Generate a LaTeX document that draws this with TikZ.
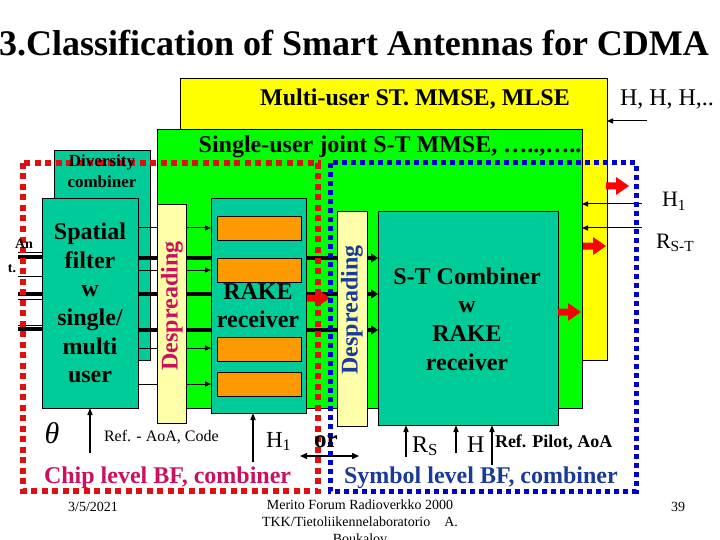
\documentclass[tikz,border=0pt]{standalone}
\usepackage{fontspec}
\setmainfont{Liberation Serif}
\usetikzlibrary{arrows.meta,calc,positioning}
\definecolor{cdmaYellow} {HTML}{FFFF00}
\definecolor{cdmaGreen}  {HTML}{00FF00}
\definecolor{cdmaTeal}   {HTML}{00CC99}
\definecolor{cdmaPale}   {HTML}{FFFFAA}
\definecolor{cdmaOrange} {HTML}{FF9900}
\definecolor{cdmaRed}    {HTML}{FF0000}
\definecolor{cdmaDotRed} {HTML}{E01010}
\definecolor{cdmaDotBlue}{HTML}{0000CC}
\definecolor{cdmaCrimson}{HTML}{CC1060}
\definecolor{cdmaNavy}   {HTML}{1A3A99}
\tikzset{
  blockarr/.pic={
    \fill[cdmaRed] (0,-3.5) -- (10,-3.5) -- (10,-9) -- (23,0) -- (10,9) -- (10,3.5) -- (0,3.5) -- cycle;
  },
}

\begin{document}
\begin{tikzpicture}[x=1pt, y=-1pt,
  every node/.style ={inner sep=0pt, outer sep=0pt},
  panel/.style      ={draw=black, line width=0.7pt, anchor=north west},
  ylw/.style        ={panel, fill=cdmaYellow},
  grn/.style        ={panel, fill=cdmaGreen},
  tblk/.style       ={panel, fill=cdmaTeal},
  pblk/.style       ={panel, fill=cdmaPale},
  oblk/.style       ={panel, fill=cdmaOrange, minimum width=84pt, minimum height=24pt},
  wire/.style       ={line width=1pt, black},
  bus/.style        ={line width=3.5pt, black},
  arr/.style        ={wire, -{Triangle[length=6pt, width=5pt]}},
  uparr/.style      ={line width=1.4pt, -{Triangle[length=7pt, width=5pt]}},
  busarr/.style     ={bus, -{Triangle[length=7pt, width=9pt]}},
  darr/.style       ={line width=1.5pt, {Triangle[length=7pt, width=6pt]}-{Triangle[length=7pt, width=6pt]}},
  redframe/.style   ={draw=cdmaDotRed, line width=5.5pt, dash pattern=on 6pt off 4.5pt},
  blueframe/.style  ={draw=cdmaDotBlue, line width=5pt, dash pattern=on 5pt off 4pt},
  hdr/.style        ={anchor=base, font=\fontsize{24}{28}\selectfont\bfseries},
  lbl/.style        ={anchor=base west, font=\fontsize{24}{28}\selectfont},
  big/.style        ={align=center, font=\fontsize{24}{28.6}\selectfont\bfseries},
  vtxt/.style       ={rotate=90, font=\fontsize{24}{28}\selectfont\bfseries},
  small/.style      ={anchor=base west, font=\fontsize{16}{18}\selectfont},
  foot/.style       ={font=\fontsize{14}{17}\selectfont},
]
\useasboundingbox (0,0) rectangle (720,540);

\node[anchor=base, font=\fontsize{36}{40}\selectfont\bfseries] (title) at (354,56) {3.Classification of Smart Antennas for CDMA};

% nested processing levels
\node[ylw, minimum width=427pt, minimum height=282pt] (multiuser)  at (180,78)  {};
\node[grn, minimum width=425pt, minimum height=279pt] (singleuser) at (157,129) {};
\node[hdr] (mutitle) at (415,106) {Multi-user ST. MMSE, MLSE};
\node[lbl] (hhh)     at (620,106) {H, H, H,..};
\node[hdr] (sutitle) at (390,153) {Single-user joint S-T MMSE, …..,…..};

% chip level chain
\node[tblk, minimum width=96pt, minimum height=210pt] (divcomb) at (54,150)  {};
\node[tblk, minimum width=96pt, minimum height=210pt] (spatial) at (42,198)  {};
\node[pblk, minimum width=29pt, minimum height=219pt] (desp1)   at (157,204) {};
\node[tblk, minimum width=180pt, minimum height=214pt] (stcomb) at (378,211) {};

\foreach \yy in {252,276,299,325} \draw[wire] (18,\yy) -- (spatial.west |- 0,\yy);
\foreach \yy in {257,294,329}     \draw[bus]  (18,\yy) -- (spatial.west |- 0,\yy);
\foreach \yy in {228,270,348,384} \draw[wire] (spatial.east |- 0,\yy) -- (desp1.west |- 0,\yy);
\foreach \yy in {258,294,330}     \draw[bus]  (spatial.east |- 0,\yy) -- (desp1.west |- 0,\yy);
\foreach \yy in {258,294,330}     \draw[busarr] (desp1.east |- 0,\yy) -- (stcomb.west |- 0,\yy);

\node[tblk, minimum width=95pt, minimum height=215pt] (rake) at (211,198) {};
\node[oblk] (rakeA) at (217,216) {};
\node[oblk] (rakeB) at (217,258) {};
\node[oblk] (rakeC) at (217,337) {};
\node[oblk] (rakeD) at (217,372) {};
\node[pblk, minimum width=30pt, minimum height=215pt] (desp2) at (337,211) {};

\foreach \yy in {228,270,348,384} \draw[arr] (desp1.east |- 0,\yy) -- (rake.west |- 0,\yy);

% block arrows
\pic at (307,298) {blockarr};
\pic at (606,186) {blockarr};
\pic at (583,246) {blockarr};
\pic at (558,312) {blockarr};

% side inputs
\coordinate (hhhsrc) at (647,121);
\coordinate (honesrc) at (642,204);
\coordinate (rstsrc) at (642,228);
\draw[arr] (hhhsrc)  -- (hhhsrc -| multiuser.east);
\draw[arr] (honesrc) -- (honesrc -| singleuser.east);
\draw[arr] (rstsrc)  -- (rstsrc -| singleuser.east);

% bottom references
\coordinate (thetasrc) at (90,453);
\coordinate (hbotsrc)  at (253,462);
\coordinate (rssrc)    at (406,457);
\coordinate (hsrc)     at (456,453);
\coordinate (pilotsrc) at (492,465);
\draw[uparr] (thetasrc) -- (thetasrc |- spatial.south);
\draw[uparr] (hbotsrc)  -- (hbotsrc |- rake.south);
\draw[uparr] (rssrc)    -- (rssrc |- stcomb.south);
\draw[uparr] (hsrc)     -- (hsrc |- stcomb.south);
\draw[uparr] (pilotsrc) -- (pilotsrc |- stcomb.south);
\coordinate (orL) at (300,456);
\coordinate (orR) at (359,456);
\draw[darr] (orL) -- (orR);

% beamforming levels
\draw[redframe]  (23,163)  rectangle (318,491);
\draw[blueframe] (330,163) rectangle (636,491);

% texts
\node[align=center, font=\fontsize{17}{21}\selectfont\bfseries] (divtxt) at (102,171) {Diversity\\combiner};
\node[big] (sptxt)   at (90,303)  {Spatial\\filter\\w\\single/\\multi\\user};
\node[big, font=\fontsize{24}{28}\selectfont\bfseries] (raketxt) at (258,306) {RAKE\\receiver};
\node[big] (sttxt)   at (467,319) {S-T Combiner\\w\\RAKE\\receiver};
\node[vtxt, text=cdmaCrimson] (desp1txt) at (172,306) {Despreading};
\node[vtxt, text=cdmaNavy]    (desp2txt) at (352,310) {Despreading};
\node[anchor=base, font=\fontsize{14}{16}\selectfont\bfseries] (antA) at (24,248) {An};
\node[anchor=base, font=\fontsize{14}{16}\selectfont\bfseries] (antB) at (12,272) {t.};
\node[lbl, font=\fontsize{22}{26}\selectfont] (honetxt) at (662,207) {H\textsubscript{1}};
\node[lbl, font=\fontsize{22}{26}\selectfont] (rsttxt)  at (656,248) {R\textsubscript{S-T}};

\node[anchor=base, font=\fontsize{30}{30}\selectfont\itshape] (theta) at (52,443) {θ};
\node[small] (refcode) at (104,441) {Ref. - AoA, Code};
\node[lbl, font=\fontsize{23}{26}\selectfont] (hbot) at (266,447) {H\textsubscript{1}};
\node[anchor=base, font=\fontsize{25}{28}\selectfont\bfseries] (ortxt) at (326,447) {or};
\node[lbl] (rstxt) at (412,452) {R\textsubscript{S}};
\node[lbl] (htxt)  at (467,452) {H};
\node[small, font=\fontsize{18}{20}\selectfont\bfseries] (refpilot) at (495,447) {Ref. Pilot, AoA};
\node[hdr, anchor=base west, text=cdmaCrimson] (chiplvl) at (44,483)  {Chip level BF, combiner};
\node[hdr, anchor=base west, text=cdmaNavy]    (symlvl)  at (344,483) {Symbol level BF, combiner};

\node[foot, anchor=base] (date) at (93,511) {3/5/2021};
\node[foot, anchor=north, align=center] (source) at (360,500) {Merito Forum Radioverkko 2000\\TKK/Tietoliikennelaboratorio\quad A.\\Boukalov};
\node[foot, anchor=base] (pageno) at (678,511) {39};
\end{tikzpicture}
\end{document}
